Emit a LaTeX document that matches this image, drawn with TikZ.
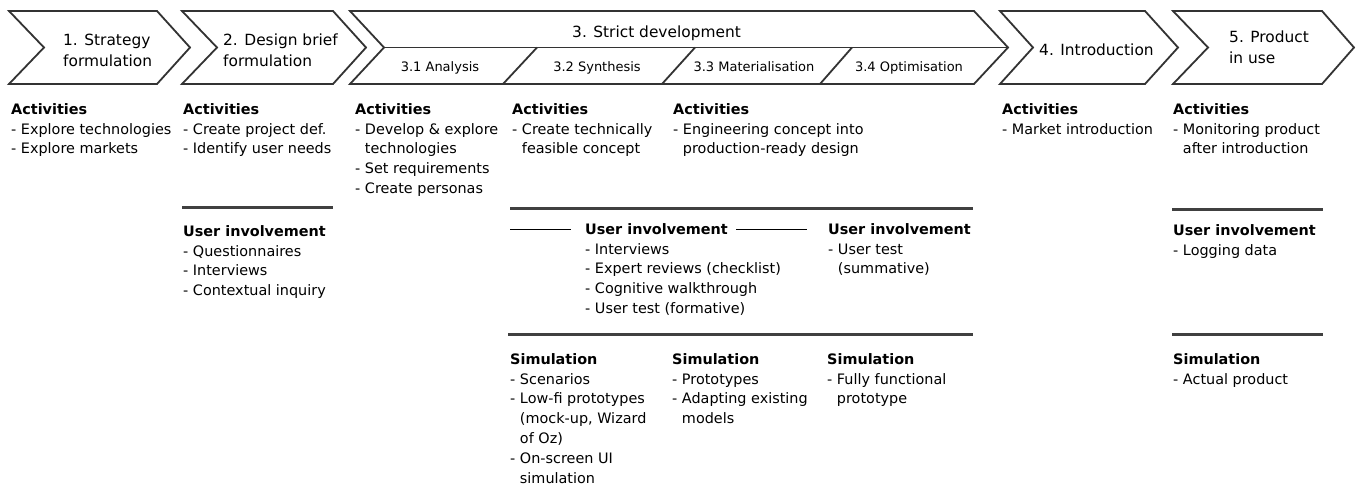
\documentclass[tikz,border=0pt]{standalone}
\usepackage{fontspec}
\setmainfont{DejaVu Sans}
\definecolor{chevgray}{HTML}{333333}
\definecolor{sepgray}{HTML}{404040}
\begin{document}
\begin{tikzpicture}[x=1pt,y=-1pt,
  body/.style={anchor=north west, yshift=10.9pt, align=left, inner sep=0pt, font=\fontsize{14.4}{19.8}\selectfont},
  ttl/.style={anchor=north west, yshift=11.5pt, align=left, inner sep=0pt, font=\fontsize{15.4}{21}\selectfont},
  subl/.style={anchor=base, inner sep=0pt, font=\fontsize{13}{16}\selectfont},
  chev/.style={draw=chevgray, line width=1.8pt, line join=miter},
  sepline/.style={draw=sepgray, line width=3pt},
  thinline/.style={draw=black, line width=0.8pt}]
\useasboundingbox[fill=white] (0,0) rectangle (1357,484);
% chevrons
\draw[chev] (9,11) -- (157,11) -- (190,47.5) -- (157,84) -- (9,84) -- (44,47.5) -- cycle;
\draw[chev] (182,11) -- (333,11) -- (366,47.5) -- (333,84) -- (182,84) -- (217,47.5) -- cycle;
\draw[chev] (350,11) -- (974,11) -- (1008,47.5) -- (974,84) -- (350,84) -- (384,47.5) -- cycle;
\draw[chev] (384,47.5) -- (1008,47.5);
\draw[chev] (537,47.5) -- (503,84);
\draw[chev] (695,47.5) -- (662,84);
\draw[chev] (852,47.5) -- (820,84);
\draw[chev] (1000,11) -- (1145,11) -- (1178,47.5) -- (1145,84) -- (1000,84) -- (1033,47.5) -- cycle;
\draw[chev] (1173,11) -- (1322,11) -- (1354,47.5) -- (1322,84) -- (1173,84) -- (1208,47.5) -- cycle;
% chevron titles
\node[ttl] (t1) at (63,45) {1. Strategy\\formulation};
\node[ttl] (t2) at (223,45) {2. Design brief\\formulation};
\node[ttl] (t3) at (572,37) {3. Strict development};
\node[subl] (t31) at (440,72) {3.1 Analysis};
\node[subl] (t32) at (597,72) {3.2 Synthesis};
\node[subl] (t33) at (754,72) {3.3 Materialisation};
\node[subl] (t34) at (909,72) {3.4 Optimisation};
\node[ttl] (t4) at (1039,55) {4. Introduction};
\node[ttl] (t5) at (1229,42) {5. Product\\in use};
% separators
\draw[sepline] (182,207) -- (333,207);
\draw[sepline] (510,208) -- (973,208);
\draw[sepline] (1172,209) -- (1323,209);
\draw[sepline] (508,334) -- (973,334);
\draw[sepline] (1172,334) -- (1323,334);
\draw[thinline] (510,229) -- (571,229);
\draw[thinline] (736,229) -- (807,229);
% body text
\node[body] (a1) at (11,114) {\textbf{Activities}\\- Explore technologies\\- Explore markets};
\node[body] (a2) at (183,114) {\textbf{Activities}\\- Create project def.\\- Identify user needs};
\node[body] (u2) at (183,236) {\textbf{User involvement}\\- Questionnaires\\- Interviews\\- Contextual inquiry};
\node[body] (a3) at (355,114) {\textbf{Activities}\\- Develop \& explore\\\phantom{- }technologies\\- Set requirements\\- Create personas};
\node[body] (a4) at (512,114) {\textbf{Activities}\\- Create technically\\\phantom{- }feasible concept};
\node[body] (a5) at (673,114) {\textbf{Activities}\\- Engineering concept into\\\phantom{- }production-ready design};
\node[body] (u4) at (585,234) {\textbf{User involvement}\\- Interviews\\- Expert reviews (checklist)\\- Cognitive walkthrough\\- User test (formative)};
\node[body] (u6) at (828,234) {\textbf{User involvement}\\- User test\\\phantom{- }(summative)};
\node[body] (s4) at (510,364) {\textbf{Simulation}\\- Scenarios\\- Low-fi prototypes\\\phantom{- }(mock-up, Wizard\\\phantom{- }of Oz)\\- On-screen UI\\\phantom{- }simulation};
\node[body] (s5) at (672,364) {\textbf{Simulation}\\- Prototypes\\- Adapting existing\\\phantom{- }models};
\node[body] (s6) at (827,364) {\textbf{Simulation}\\- Fully functional\\\phantom{- }prototype};
\node[body] (a7) at (1002,114) {\textbf{Activities}\\- Market introduction};
\node[body] (a8) at (1173,114) {\textbf{Activities}\\- Monitoring product\\\phantom{- }after introduction};
\node[body] (u8) at (1173,235) {\textbf{User involvement}\\- Logging data};
\node[body] (s8) at (1173,364) {\textbf{Simulation}\\- Actual product};
\end{tikzpicture}
\end{document}
